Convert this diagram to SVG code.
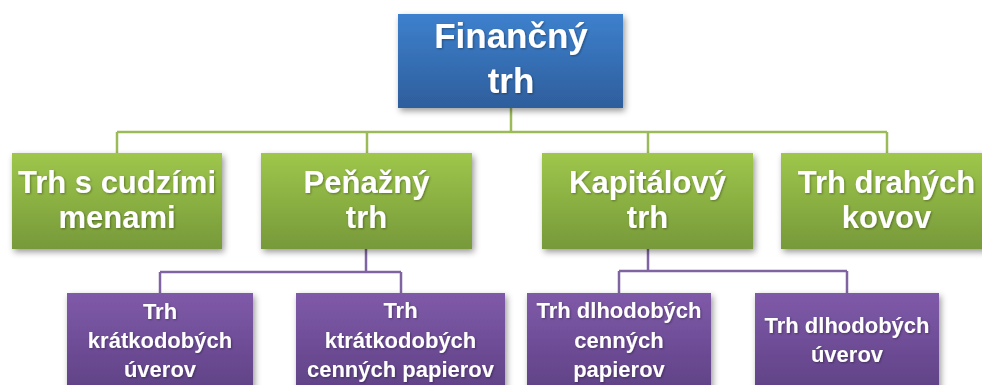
<svg xmlns="http://www.w3.org/2000/svg" width="982" height="385" viewBox="0 0 982 385">
  <defs>
    <linearGradient id="gBlue" x1="0" y1="0" x2="0" y2="1">
      <stop offset="0" stop-color="#3d80cd"/>
      <stop offset="1" stop-color="#2e5e9c"/>
    </linearGradient>
    <linearGradient id="gGreen" x1="0" y1="0" x2="0" y2="1">
      <stop offset="0" stop-color="#9ec74b"/>
      <stop offset="1" stop-color="#77993a"/>
    </linearGradient>
    <linearGradient id="gPurple" x1="0" y1="0" x2="0" y2="1">
      <stop offset="0" stop-color="#7f5aa9"/>
      <stop offset="1" stop-color="#5f4185"/>
    </linearGradient>
    <filter id="shadow" x="-10%" y="-10%" width="125%" height="130%">
      <feDropShadow dx="2" dy="3" stdDeviation="3" flood-color="#000" flood-opacity="0.4"/>
    </filter>
    <filter id="tshadow" x="-5%" y="-10%" width="115%" height="130%">
      <feDropShadow dx="1" dy="1" stdDeviation="1" flood-color="#000" flood-opacity="0.35"/>
    </filter>
  </defs>
  <style>
    .lbl { font-family: "Liberation Sans", Arial, sans-serif; font-weight: 700; fill: #ffffff; text-anchor: middle; }
    .top { font-size: 35px; }
    .mid { font-size: 31px; }
    .low { font-size: 22px; }
    .cg { stroke: #9bbb59; stroke-width: 2.5; fill: none; }
    .cp { stroke: #8064a2; stroke-width: 2.5; fill: none; }
  </style>

  <g id="connectors">
    <path class="cg" d="M511 108 V132 M117 132 H887 M117 132 V153 M367 132 V153 M648 132 V153 M887 132 V153"/>
    <path class="cp" d="M366 249 V272 M160 272 H401 M160 272 V293 M401 272 V293"/>
    <path class="cp" d="M648 249 V271 M619 271 H847 M619 271 V293 M847 271 V293"/>
  </g>

  <g id="n-financny-trh">
    <rect x="398" y="14" width="225" height="94" fill="url(#gBlue)" filter="url(#shadow)"/>
    <text class="lbl top" x="511" y="48" filter="url(#tshadow)">Finančný</text>
    <text class="lbl top" x="511" y="93" filter="url(#tshadow)">trh</text>
  </g>

  <g id="n-cudzie-meny">
    <rect x="12" y="153" width="210" height="96" fill="url(#gGreen)" filter="url(#shadow)"/>
    <text class="lbl mid" x="117" y="193" filter="url(#tshadow)">Trh s cudzími</text>
    <text class="lbl mid" x="117" y="228" filter="url(#tshadow)">menami</text>
  </g>

  <g id="n-penazny">
    <rect x="261" y="153" width="211" height="96" fill="url(#gGreen)" filter="url(#shadow)"/>
    <text class="lbl mid" x="366.5" y="193" filter="url(#tshadow)">Peňažný</text>
    <text class="lbl mid" x="366.5" y="228" filter="url(#tshadow)">trh</text>
  </g>

  <g id="n-kapitalovy">
    <rect x="542" y="153" width="211" height="96" fill="url(#gGreen)" filter="url(#shadow)"/>
    <text class="lbl mid" x="647.5" y="193" filter="url(#tshadow)">Kapitálový</text>
    <text class="lbl mid" x="647.5" y="228" filter="url(#tshadow)">trh</text>
  </g>

  <g id="n-drahe-kovy">
    <rect x="781" y="153" width="211" height="96" fill="url(#gGreen)" filter="url(#shadow)"/>
    <text class="lbl mid" x="886.5" y="193" filter="url(#tshadow)">Trh drahých</text>
    <text class="lbl mid" x="886.5" y="228" filter="url(#tshadow)">kovov</text>
  </g>

  <g id="n-kratkodobe-uvery">
    <rect x="67" y="293" width="186" height="100" fill="url(#gPurple)" filter="url(#shadow)"/>
    <text class="lbl low" x="160" y="319" filter="url(#tshadow)">Trh</text>
    <text class="lbl low" x="160" y="348" filter="url(#tshadow)">krátkodobých</text>
    <text class="lbl low" x="160" y="377" filter="url(#tshadow)">úverov</text>
  </g>

  <g id="n-kratkodobe-cp">
    <rect x="296" y="293" width="209" height="100" fill="url(#gPurple)" filter="url(#shadow)"/>
    <text class="lbl low" x="400.5" y="318" filter="url(#tshadow)">Trh</text>
    <text class="lbl low" x="400.5" y="348" filter="url(#tshadow)">ktrátkodobých</text>
    <text class="lbl low" x="400.5" y="377" filter="url(#tshadow)">cenných papierov</text>
  </g>

  <g id="n-dlhodobe-cp">
    <rect x="527" y="293" width="184" height="100" fill="url(#gPurple)" filter="url(#shadow)"/>
    <text class="lbl low" x="619" y="318" filter="url(#tshadow)">Trh dlhodobých</text>
    <text class="lbl low" x="619" y="348" filter="url(#tshadow)">cenných</text>
    <text class="lbl low" x="619" y="377" filter="url(#tshadow)">papierov</text>
  </g>

  <g id="n-dlhodobe-uvery">
    <rect x="755" y="293" width="184" height="100" fill="url(#gPurple)" filter="url(#shadow)"/>
    <text class="lbl low" x="847" y="333" filter="url(#tshadow)">Trh dlhodobých</text>
    <text class="lbl low" x="847" y="362" filter="url(#tshadow)">úverov</text>
  </g>
</svg>
